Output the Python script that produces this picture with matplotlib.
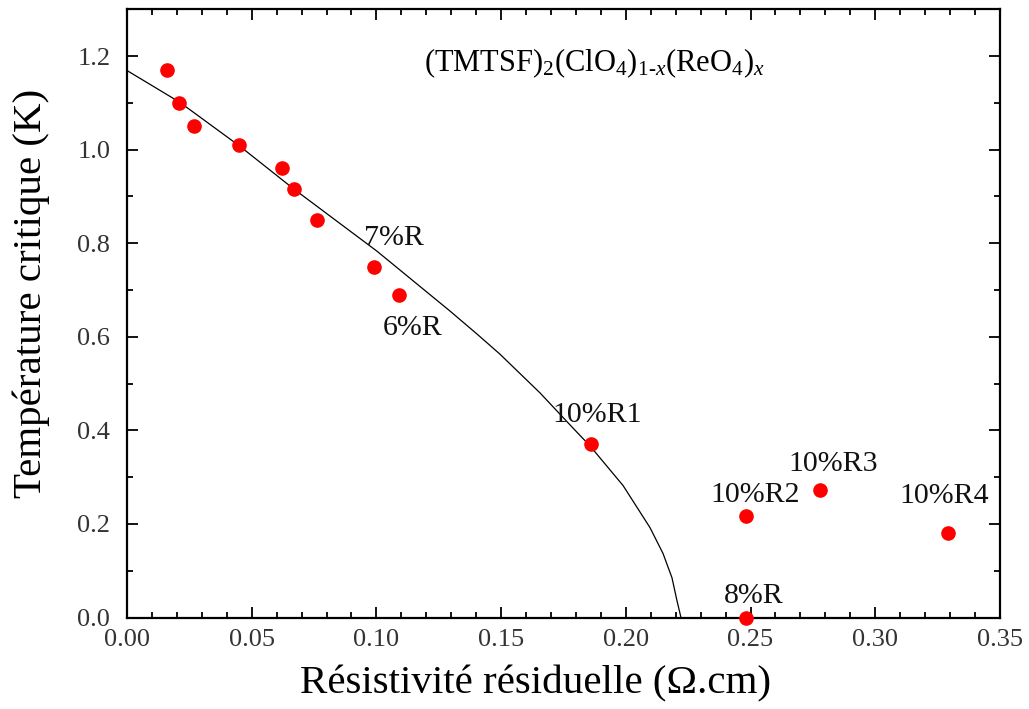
import matplotlib
matplotlib.use("Agg")
import matplotlib.pyplot as plt
from matplotlib.ticker import MultipleLocator, FormatStrFormatter

plt.rcParams['font.family'] = ['Liberation Serif', 'DejaVu Serif']
plt.rcParams['mathtext.fontset'] = 'custom'
plt.rcParams['mathtext.rm'] = 'Liberation Serif'
plt.rcParams['mathtext.it'] = 'Liberation Serif:italic'
plt.rcParams['mathtext.bf'] = 'Liberation Serif:bold'

# Measured data points
rho = [0.016, 0.021, 0.027, 0.045, 0.062, 0.067, 0.076, 0.099, 0.109, 0.186,
       0.248, 0.278, 0.329, 0.248]
tc = [1.17, 1.10, 1.05, 1.01, 0.96, 0.915, 0.85, 0.75, 0.69, 0.37,
      0.218, 0.273, 0.18, 0.0]

# Fitted curve
fit_rho = [0.0, 0.0212, 0.0453, 0.0666, 0.1002, 0.1295, 0.1403, 0.1495, 0.1656,
           0.1788, 0.1856, 0.1989, 0.2097, 0.2149, 0.2185, 0.2205, 0.2221]
fit_tc = [1.169, 1.101, 1.007, 0.917, 0.783, 0.655, 0.606, 0.563, 0.480,
          0.405, 0.367, 0.282, 0.192, 0.137, 0.085, 0.036, 0.0]

# Sample labels and their positions
labels = ['7%R', '6%R', '10%R1', '10%R2', '10%R3', '10%R4', '8%R']
label_x = [0.1069, 0.1144, 0.1884, 0.2520, 0.2831, 0.3276, 0.2514]
label_y = [0.812, 0.618, 0.432, 0.262, 0.328, 0.259, 0.045]

title_text = r'(TMTSF)$_2$(ClO$_4$)$_{1\text{-}x}$(ReO$_4$)$_x$'

fig = plt.figure(figsize=(10.29, 7.09), dpi=100)
ax = fig.add_axes([0.1234, 0.129, 0.8484, 0.858])

ax.plot(fit_rho, fit_tc, color='black', lw=0.9, zorder=2)
ax.plot(rho, tc, 'o', color='#ff0000', ms=9.5, mec='#ff0000', zorder=3, clip_on=False)

for t, x, y in zip(labels, label_x, label_y):
    ax.text(x, y, t, fontsize=21.5, ha='center', va='center', color='#111111')

ax.text(0.1875, 1.185, title_text, fontsize=22, ha='center', va='center')

ax.set_xlim(0, 0.35)
ax.set_ylim(0, 1.3)
ax.xaxis.set_major_locator(MultipleLocator(0.05))
ax.xaxis.set_minor_locator(MultipleLocator(0.01))
ax.yaxis.set_major_locator(MultipleLocator(0.2))
ax.yaxis.set_minor_locator(MultipleLocator(0.1))
ax.xaxis.set_major_formatter(FormatStrFormatter('%.2f'))
ax.yaxis.set_major_formatter(FormatStrFormatter('%.1f'))
ax.set_yticks([0, 0.2, 0.4, 0.6, 0.8, 1.0, 1.2])

ax.tick_params(which='both', direction='in', top=True, right=True, width=1.3,
               labelsize=19, labelcolor='#333333')
ax.tick_params(which='major', length=8)
ax.tick_params(axis='x', which='major', pad=8)
ax.tick_params(axis='y', which='major', pad=12)
ax.tick_params(which='minor', length=4)
for s in ax.spines.values():
    s.set_linewidth(1.6)

ax.set_xlabel('Résistivité résiduelle (Ω.cm)', fontsize=29.5)
ax.set_ylabel('Température critique (K)', fontsize=29.5)
ax.xaxis.set_label_coords(0.468, -0.078)
ax.yaxis.set_label_coords(-0.088, 0.533)

fig.savefig('out.png', dpi=100)
